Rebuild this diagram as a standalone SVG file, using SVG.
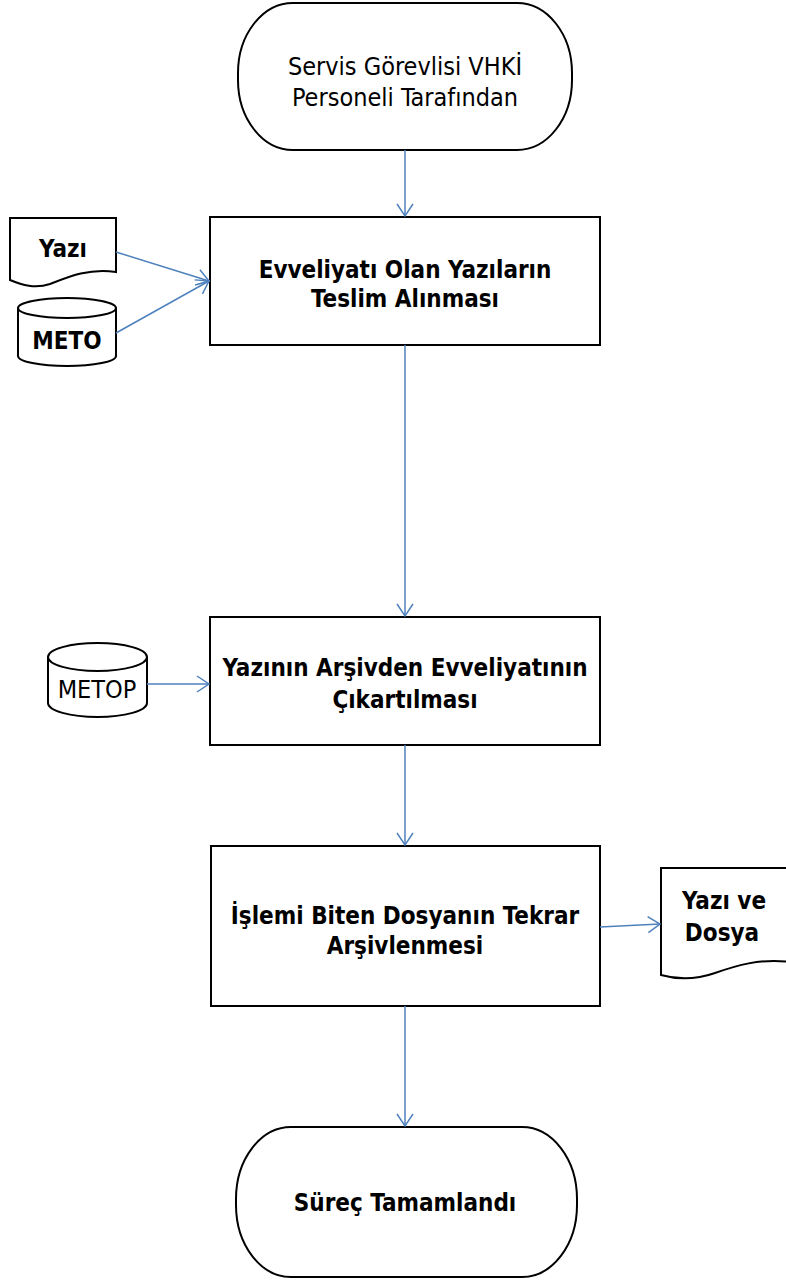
<svg xmlns="http://www.w3.org/2000/svg" width="786" height="1282" viewBox="0 0 786 1282">
<defs>
<marker id="arr" markerWidth="16" markerHeight="18" refX="14" refY="9" orient="auto" markerUnits="userSpaceOnUse">
<path d="M2,1 L14,9 L2,17" fill="none" stroke="#4F81BD" stroke-width="1.5"/>
</marker>
<style>
.sh{fill:#fff;stroke:#000;stroke-width:2}
.t{font-family:"DejaVu Sans Condensed","DejaVu Sans",sans-serif;font-size:25px;fill:#000;text-anchor:middle}
.b{font-weight:bold;font-size:24px}
.c{fill:none;stroke:#4F81BD;stroke-width:1.5;marker-end:url(#arr)}
</style>
</defs>
<rect width="786" height="1282" fill="#fff"/>
<g id="start">
<rect class="sh" x="238" y="3" width="334" height="147" rx="55" ry="70"/>
<text class="t" x="405" y="75">Servis Görevlisi VHKİ</text>
<text class="t" x="405" y="106">Personeli Tarafından</text>
</g>
<g id="box1">
<rect class="sh" x="210" y="217" width="390" height="128"/>
<text class="t b" x="405" y="278">Evveliyatı Olan Yazıların</text>
<text class="t b" x="405" y="307">Teslim Alınması</text>
</g>
<g id="yazi">
<path class="sh" d="M10,218 H116 V272 C90,268 70,276 50,284 C35,289 22,285 10,280 Z"/>
<text class="t b" x="63" y="257">Yazı</text>
</g>
<g id="meto">
<path class="sh" d="M18,308 A49,10 0 0 1 116,308 V356 A49,10 0 0 1 18,356 Z"/>
<path class="sh" fill="none" d="M18,308 A49,10 0 0 0 116,308"/>
<text class="t b" x="67" y="349">METO</text>
</g>
<g id="box2">
<rect class="sh" x="210" y="617" width="390" height="128"/>
<text class="t b" x="405" y="676">Yazının Arşivden Evveliyatının</text>
<text class="t b" x="405" y="708">Çıkartılması</text>
</g>
<g id="metop">
<path class="sh" d="M48,657 A49.5,14 0 0 1 147,657 V703 A49.5,14 0 0 1 48,703 Z"/>
<path class="sh" fill="none" d="M48,657 A49.5,14 0 0 0 147,657"/>
<text class="t" x="97" y="698">METOP</text>
</g>
<g id="box3">
<rect class="sh" x="211" y="846" width="389" height="160"/>
<text class="t b" x="405" y="924">İşlemi Biten Dosyanın Tekrar</text>
<text class="t b" x="405" y="954">Arşivlenmesi</text>
</g>
<g id="yazidosya">
<path class="sh" d="M661,868 H790 V962 C760,958 735,966 715,973 C695,980 675,979 661,975 Z"/>
<text class="t b" x="724" y="909">Yazı ve</text>
<text class="t b" x="722" y="941">Dosya</text>
</g>
<g id="end">
<rect class="sh" x="236" y="1127" width="341" height="150" rx="55" ry="72"/>
<text class="t b" x="405" y="1211">Süreç Tamamlandı</text>
</g>
<g id="connectors">
<line class="c" x1="405" y1="150" x2="405" y2="216"/>
<line class="c" x1="116" y1="252" x2="209" y2="281"/>
<line class="c" x1="116" y1="333" x2="209" y2="281"/>
<line class="c" x1="405" y1="345" x2="405" y2="616"/>
<line class="c" x1="147" y1="684" x2="209" y2="684"/>
<line class="c" x1="405" y1="745" x2="405" y2="845"/>
<line class="c" x1="600" y1="927" x2="660" y2="924"/>
<line class="c" x1="405" y1="1006" x2="405" y2="1126"/>
</g>
</svg>
